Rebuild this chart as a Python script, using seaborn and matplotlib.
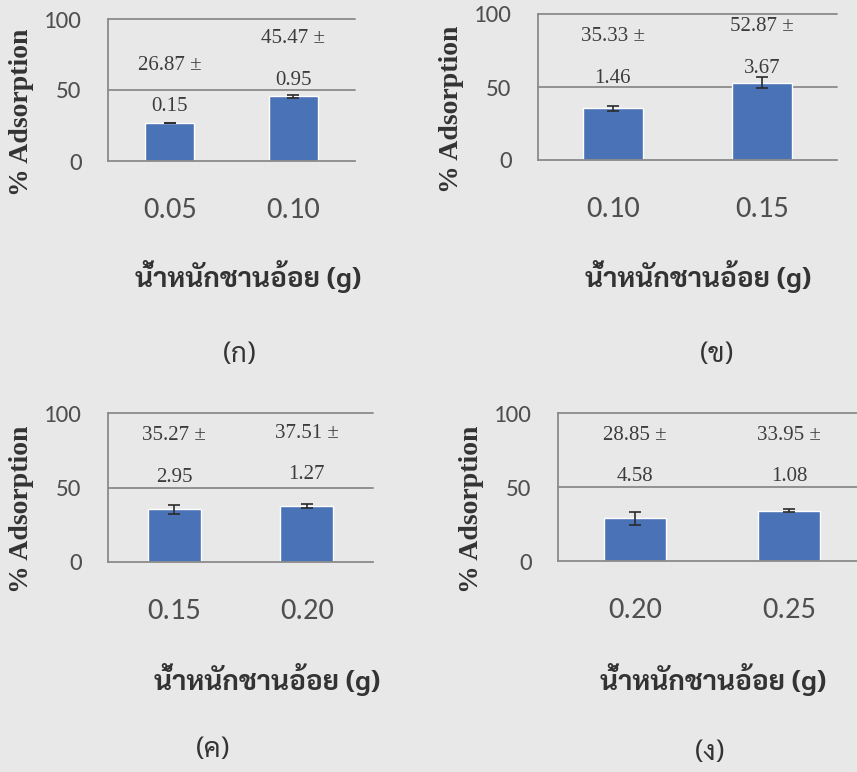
import numpy as np
import matplotlib
matplotlib.use("Agg")
import matplotlib.pyplot as plt
from matplotlib import font_manager
import seaborn as sns

# ---- data -------------------------------------------------------------
weights_a = ["0.05", "0.10"]
mean_a = [26.87, 45.47]
sd_a = [0.15, 0.95]

weights_b = ["0.10", "0.15"]
mean_b = [35.33, 52.87]
sd_b = [1.46, 3.67]

weights_c = ["0.15", "0.20"]
mean_c = [35.27, 37.51]
sd_c = [2.95, 1.27]

weights_d = ["0.20", "0.25"]
mean_d = [28.85, 33.95]
sd_d = [4.58, 1.08]

y_ticks = [0, 50, 100]
y_label = "% Adsorption"
x_label = "น้ำหนักชานอ้อย (g)"
panel_tags = ["(ก)", "(ข)", "(ค)", "(ง)"]

# ---- fonts ------------------------------------------------------------
_avail = {f.name for f in font_manager.fontManager.ttflist}


def pick(*names):
    for n in names:
        if n in _avail:
            return n
    return "DejaVu Sans"


SERIF = pick("Tinos", "Liberation Serif", "DejaVu Serif")
SANS = pick("Carlito", "Lato", "Open Sans", "DejaVu Sans")
THAI = pick("Sarabun", "Noto Sans Thai Looped", "Noto Sans Thai", "Athiti")

# ---- style ------------------------------------------------------------
sns.set_theme(style="white")
PAGE = "#e8e8e8"
BAR = "#4a72b6"
GRID = "#8a8a8a"
TICK_TXT = "#4f4f4f"
VAL_TXT = "#3c3c3c"
LABEL_TXT = "#333333"

W, H = 857, 772
fig = plt.figure(figsize=(W / 100, H / 100), dpi=100, facecolor=PAGE)


def px_axes(left, right, top, bottom):
    return fig.add_axes([left / W, 1 - bottom / H, (right - left) / W, (bottom - top) / H])


panels = [
    # categories, means, sds, axes box (px), label rule, xlabel pos, tag pos
    dict(cat=weights_a, mean=mean_a, sd=sd_a, box=(108, 355, 19, 161),
         rule=(26, 0, 100), xl=(248, 277), tag=(240, 355)),
    dict(cat=weights_b, mean=mean_b, sd=sd_b, box=(538, 837, 14, 160),
         rule=(35, 0, 77), xl=(698, 277), tag=(717, 355)),
    dict(cat=weights_c, mean=mean_c, sd=sd_c, box=(108, 373, 413, 562),
         rule=(35, 71, 77), xl=(267, 680), tag=(213, 750)),
    dict(cat=weights_d, mean=mean_d, sd=sd_d, box=(558, 866, 413, 561),
         rule=(35, 71, 72), xl=(713, 680), tag=(710, 753)),
]

for p, tag in zip(panels, panel_tags):
    ax = px_axes(*p["box"])
    ax.set_facecolor("none")
    sns.barplot(x=p["cat"], y=p["mean"], color=BAR, width=0.4, saturation=1,
                errorbar=None, ax=ax, zorder=2)
    ax.errorbar(np.arange(len(p["cat"])), p["mean"], yerr=p["sd"], fmt="none",
                ecolor="#2b2b2b", elinewidth=1.2, capsize=4, capthick=1.2, zorder=3)

    ax.set_xlim(-0.5, len(p["cat"]) - 0.5)
    ax.set_ylim(0, 100)
    ax.set_yticks(y_ticks)
    for yv in y_ticks[1:]:
        ax.axhline(yv, color=GRID, lw=1.3, zorder=1, clip_on=False)

    for s in ("top", "right"):
        ax.spines[s].set_visible(False)
    for s in ("left", "bottom"):
        ax.spines[s].set_color(GRID)
        ax.spines[s].set_linewidth(1.3)

    ax.tick_params(axis="y", direction="out", length=6, width=1.3, color=GRID,
                   pad=13, labelsize=18, labelcolor=TICK_TXT)
    ax.tick_params(axis="x", length=0, pad=26, labelsize=22, labelcolor=TICK_TXT)
    for t in ax.get_yticklabels() + ax.get_xticklabels():
        t.set_fontfamily(SANS)

    ax.set_xlabel("")
    ax.set_ylabel(y_label, fontfamily=SERIF, fontweight="bold", fontsize=20,
                  color=LABEL_TXT)
    box_w = p["box"][1] - p["box"][0]
    box_h = p["box"][3] - p["box"][2]
    ax.yaxis.set_label_coords(-74 / box_w, 0.5 - 22 / box_h)

    # two-line value labels "mean ±" / "sd"
    off, lo, hi = p["rule"]
    for i, (m, s) in enumerate(zip(p["mean"], p["sd"])):
        yc = float(np.clip(m + off, lo, hi))
        ax.annotate(f"{m:.2f} ±", (i, yc), xytext=(0, 15), textcoords="offset points",
                    ha="center", va="center", fontsize=15, fontfamily=SERIF,
                    color=VAL_TXT, zorder=4)
        ax.annotate(f"{s:.2f}", (i, yc), xytext=(0, -15), textcoords="offset points",
                    ha="center", va="center", fontsize=15, fontfamily=SERIF,
                    color=VAL_TXT, zorder=4)

    fig.text(p["xl"][0] / W, 1 - p["xl"][1] / H, x_label, ha="center", va="center",
             fontsize=20, fontweight="bold", family=[THAI, SERIF], color=LABEL_TXT)
    fig.text(p["tag"][0] / W, 1 - p["tag"][1] / H, tag, ha="center", va="center",
             fontsize=20, family=[THAI, SANS], color=LABEL_TXT)

fig.savefig("out.png", dpi=100, facecolor=PAGE)
